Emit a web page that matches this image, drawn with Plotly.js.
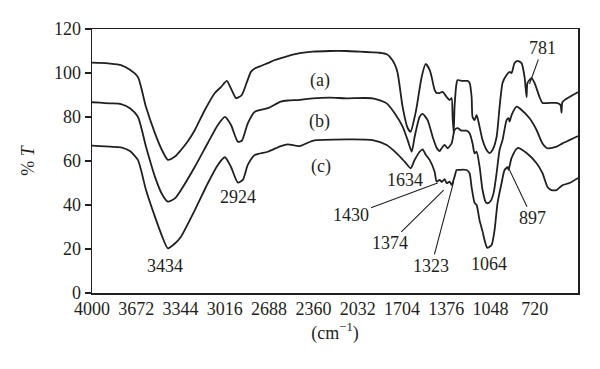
<!DOCTYPE html>
<html>
<head>
<meta charset="utf-8">
<script src="https://cdn.plot.ly/plotly-3.0.1.min.js"></script>
<style>html,body{margin:0;padding:0;background:#fff;}#chart{width:600px;height:369px;}</style>
</head>
<body>
<div id="chart"></div>
<script>
// Wavenumbers (cm^-1) and %T
const waveA = [4000,3941,3867,3785,3719,3660,3600,3534,3482,3438,3386,3341,3290,3238,3164,3090,3045,3001,2971,2934,2920,2890,2846,2823,2794,2749,2698,2646,2601,2550,2461,2365,2239,2113,2017,1921,1869,1817,1795,1758,1736,1699,1662,1640,1610,1595,1558,1528,1499,1484,1462,1447,1425,1403,1373,1351,1336,1329,1321,1314,1299,1292,1255,1218,1203,1188,1181,1166,1151,1129,1107,1077,1055,1033,1003,981,959,929,907,892,870,848,818,796,781,774,744,722,685,663,611,559,530,522,515,463,411,400];
const seriesA = [104.7,104.6,104.3,103.6,101.5,98.2,84.5,72.7,65,60.5,62,65,69,74.1,83.2,90.9,93.6,96.4,93,88.6,88.8,90,97,100.5,102,103.2,104.5,105.9,106.8,107.7,109,109.7,110,110,109.7,109.4,109.2,108.5,107.4,104,100,84.5,75,73.3,80,84.5,98.2,104.1,101.4,98.2,92.3,90.9,90.9,91.4,89.1,87.7,88.6,80,72.7,85,95.5,96.8,96.4,96.4,95.5,89.1,80,78.6,80.9,75.5,69.5,65,63.6,65,70.9,84.5,95.5,99.1,100.5,100,104.5,105.5,104.5,98.2,89.1,95.5,97.7,95.5,89.1,86.4,86.4,86.4,85.5,82,86.8,89.1,90.9,91.3];

const waveB = [4000,3941,3867,3785,3719,3660,3600,3534,3482,3438,3386,3341,3238,3142,3068,3016,2971,2920,2890,2846,2794,2698,2601,2550,2461,2365,2239,2113,1921,1817,1758,1699,1662,1632,1610,1573,1551,1514,1477,1447,1425,1410,1388,1366,1336,1314,1292,1262,1225,1203,1181,1166,1151,1129,1107,1084,1070,1047,1025,1003,981,959,929,914,907,892,855,818,759,707,663,626,559,515,463,411,400];
const seriesB = [86.7,86.5,86.2,85.9,84,80.1,66.5,52.9,45,41.5,43,46.8,57.4,68.2,76.4,80.1,76.5,68.8,69.2,77.1,82.4,84,87,87.5,87.8,88.5,88.8,88.5,88.5,86.2,81.7,75.6,69.5,64.2,71,80.1,81.4,78.6,71,66,64.5,65.8,67.3,65.8,68,74.1,74.9,73.8,73.8,72.6,68,63.5,64.2,57.4,46.8,41.4,40.8,41.8,45.5,54.5,65,69.5,78.6,79.5,77.9,80.9,84.7,83.2,79.4,74.1,68,65.8,66.5,68,69.5,71,71.3];

const waveC = [4000,3941,3867,3785,3719,3660,3600,3534,3482,3438,3386,3341,3238,3142,3068,3016,2971,2920,2883,2846,2794,2698,2601,2550,2461,2365,2113,1921,1817,1743,1684,1640,1610,1573,1551,1529,1499,1462,1447,1425,1410,1388,1373,1351,1336,1314,1299,1277,1225,1203,1188,1166,1151,1129,1107,1092,1077,1070,1040,1018,996,966,944,921,914,892,848,781,707,663,626,596,559,515,463,400];
const seriesC = [67,66.8,66.5,66.2,64.5,60.5,46.8,34.7,26,20.3,22.5,25.6,37.7,49.9,58.2,61.7,57.4,50.2,51.4,58.2,62.7,64.2,66.8,67.6,66.8,69.2,69.8,69.5,67.3,63.5,59.7,56.7,60.5,64.2,65.3,63,60.5,55.1,50.6,51.4,50.5,51.7,49.9,50.6,49.1,52.9,55.9,56,55.9,54.4,48,41,40,33,28,24,21,20.5,21.8,28.6,40.9,50,55.9,57.2,56,61.4,65.9,63.6,59,54.5,48.2,46.8,46.8,49,50,52.3];

const xTicks = [4000,3672,3344,3016,2688,2360,2032,1704,1376,1048,720];
const yTicks = [0,20,40,60,80,100,120];

// Curve labels
const curveLabels = ['(a)','(b)','(c)'];
const curveLabelX = [2313,2313,2305];
const curveLabelY = [96.8,77.9,57.4];

// Peak labels: text, text position, and pointed position (null = no leader line)
const peakText  = ['3434','2924','1634','1430','1374','1323','1064','897','781'];
const peakTextX = [3460,2920,1684,2078,1795,1486,1062,737,663];
const peakTextY = [12.3,43.6,51.4,35.5,22.6,12.3,13.2,34,111.4];
const peakPtX   = [null,null,null,1440,1395,1321,null,919,759];
const peakPtY   = [null,null,null,50,46.8,50.6,null,57.4,95];

const FONT = 'Liberation Serif, Times New Roman, serif';
const INK = '#231f20';
const FS = 18;

const mk = (x, y) => ({x: x, y: y, type: 'scatter', mode: 'lines',
  line: {color: INK, width: 1.8, shape: 'spline', smoothing: 0.6},
  hoverinfo: 'skip', showlegend: false});

const traces = [mk(waveA, seriesA), mk(waveB, seriesB), mk(waveC, seriesC)];

const annotations = [];
curveLabels.forEach((t, i) => annotations.push({
  x: curveLabelX[i], y: curveLabelY[i], xref: 'x', yref: 'y', text: t,
  showarrow: false, font: {family: FONT, size: FS, color: INK}}));
peakText.forEach((t, i) => {
  const a = {text: t, font: {family: FONT, size: FS, color: INK}, xref: 'x', yref: 'y'};
  if (peakPtX[i] === null) {
    a.x = peakTextX[i]; a.y = peakTextY[i]; a.showarrow = false;
  } else {
    a.x = peakPtX[i]; a.y = peakPtY[i]; a.showarrow = true;
    a.axref = 'x'; a.ayref = 'y'; a.ax = peakTextX[i]; a.ay = peakTextY[i];
    a.arrowhead = 0; a.arrowwidth = 1.1; a.arrowcolor = INK; a.standoff = 0;
  }
  annotations.push(a);
});

const layout = {
  width: 600, height: 369,
  margin: {l: 92, r: 22, t: 29, b: 76},
  paper_bgcolor: '#fff', plot_bgcolor: '#fff',
  font: {family: FONT, size: FS, color: INK},
  xaxis: {
    range: [4000, 400], tickvals: xTicks, ticktext: xTicks.map(String),
    ticks: '', showgrid: false, zeroline: false, ticklabelstandoff: -1,
    showline: true, linecolor: INK, linewidth: 1.5, mirror: true,
    tickfont: {family: FONT, size: FS, color: INK},
    title: {text: '(cm<sup>−1</sup>)', font: {family: FONT, size: FS, color: INK}, standoff: 8}
  },
  yaxis: {
    range: [0, 120], tickvals: yTicks,
    ticks: 'outside', ticklen: 6, tickwidth: 1.2, tickcolor: INK,
    showgrid: false, zeroline: false,
    showline: true, linecolor: INK, linewidth: 1.5, mirror: true,
    tickfont: {family: FONT, size: FS, color: INK},
    title: {text: '% <i>T</i>', font: {family: FONT, size: FS, color: INK}, standoff: 14}
  },
  annotations: annotations
};

Plotly.newPlot('chart', traces, layout, {displayModeBar: false, staticPlot: true});
</script>
</body>
</html>
